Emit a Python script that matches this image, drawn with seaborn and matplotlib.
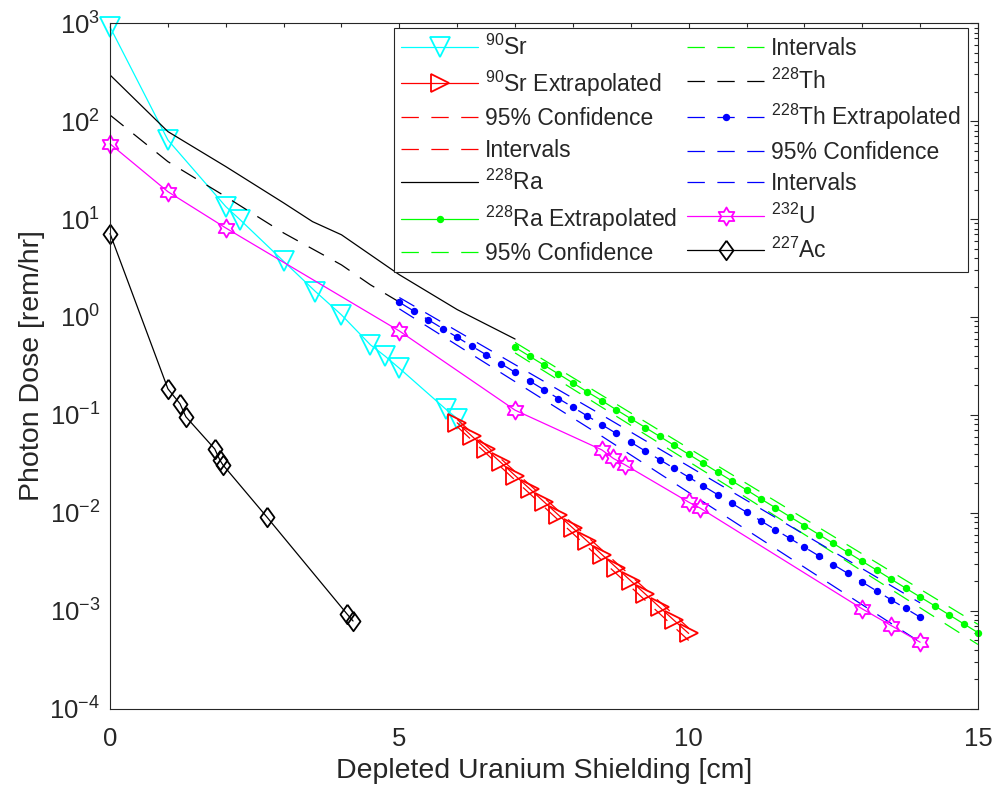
import numpy as np
import matplotlib
matplotlib.use("Agg")
import matplotlib.pyplot as plt
import seaborn as sns
from matplotlib.path import Path
from matplotlib.ticker import MultipleLocator, FixedLocator, NullFormatter, LogFormatterSciNotation

# ---------------- data ----------------
sr_x = [0, 1, 2, 2.25, 3, 3.55, 4, 4.5, 4.75, 5, 5.8, 6]
sr_y = [910, 64, 13.4, 9.8, 3.7, 1.82, 1.05, 0.52, 0.40, 0.30, 0.115, 0.092]

sr_ex_x = [6, 6.25, 6.5, 6.75, 7, 7.25, 7.5, 7.75, 8, 8.25, 8.5, 8.75, 9, 9.25, 9.5, 9.75, 10]
sr_ex_y = [0.0832, 0.0611, 0.0448, 0.0329, 0.0241, 0.0177, 0.0130, 0.00953, 0.0070,
           0.00514, 0.00377, 0.00277, 0.00203, 0.00149, 0.00109, 0.00080, 0.00059]
sr_ci_x = [6, 10]
sr_ci_hi = [0.090, 0.00067]
sr_ci_lo = [0.076, 0.00050]

ra_x = [0, 1, 2, 3, 3.5, 4, 5, 6, 7]
ra_y = [295, 78, 34.3, 14.6, 9.4, 6.9, 2.7, 1.19, 0.596]

ra_ex_x = [7, 7.25, 7.5, 7.75, 8, 8.25, 8.5, 8.75, 9, 9.25, 9.5, 9.75, 10, 10.25, 10.5,
           10.75, 11, 11.25, 11.5, 11.75, 12, 12.25, 12.5, 12.75, 13, 13.25, 13.5, 13.75,
           14, 14.25, 14.5, 14.75, 15]
ra_ex_y = [0.491, 0.398, 0.323, 0.262, 0.212, 0.172, 0.140, 0.113, 0.0918, 0.0745, 0.0604,
           0.0490, 0.0397, 0.0322, 0.0261, 0.0212, 0.0172, 0.0139, 0.0113, 0.00916, 0.00743,
           0.00603, 0.00489, 0.00396, 0.00321, 0.00261, 0.00211, 0.00171, 0.00139, 0.00113,
           0.000914, 0.000741, 0.000601]
ra_ci_x = [7, 11, 15]
ra_ci_hi = [0.55, 0.0200, 0.00073]
ra_ci_lo = [0.43, 0.0143, 0.000455]

th_x = [0, 1, 2, 3, 4, 4.5, 5]
th_y = [115, 38.5, 16.9, 7.2, 3.4, 2.13, 1.42]

th_ex_x = [5, 5.25, 5.5, 5.75, 6, 6.25, 6.5, 6.75, 7, 7.25, 7.5, 7.75, 8, 8.25, 8.5, 8.75,
           9, 9.25, 9.5, 9.75, 10, 10.25, 10.5, 10.75, 11, 11.25, 11.5, 11.75, 12, 12.25,
           12.5, 12.75, 13, 13.25, 13.5, 13.75, 14]
th_ex_y = [1.413, 1.150, 0.936, 0.762, 0.621, 0.505, 0.412, 0.335, 0.273, 0.222, 0.181,
           0.147, 0.120, 0.0976, 0.0795, 0.0648, 0.0527, 0.0429, 0.0350, 0.0285, 0.0232,
           0.0189, 0.0154, 0.0125, 0.0102, 0.00829, 0.00675, 0.00550, 0.00448, 0.00365,
           0.00297, 0.00242, 0.00197, 0.00160, 0.00130, 0.00106, 0.000865]
th_ci_x = [5, 8.5, 14]
th_ci_hi = [1.58, 0.100, 0.00121]
th_ci_lo = [1.21, 0.0607, 0.00048]

u_x = [0, 1, 2, 5, 7, 8.5, 8.7, 8.9, 10, 10.2, 13, 13.5, 14]
u_y = [58.5, 19, 8.1, 0.72, 0.112, 0.044, 0.036, 0.031, 0.0129, 0.0112, 0.00105, 0.00071, 0.00048]

ac_x = [0, 1.0, 1.21, 1.31, 1.81, 1.9, 1.95, 2.71, 4.09, 4.2]
ac_y = [7.1, 0.185, 0.13, 0.096, 0.045, 0.0345, 0.031, 0.0091, 0.00094, 0.00079]

labels = [r"$^{90}$Sr", r"$^{90}$Sr Extrapolated", "95% Confidence", "Intervals",
          r"$^{228}$Ra", r"$^{228}$Ra Extrapolated", "95% Confidence", "Intervals",
          r"$^{228}$Th", r"$^{228}$Th Extrapolated", "95% Confidence", "Intervals",
          r"$^{232}$U", r"$^{227}$Ac"]

y_major = [1e-4, 1e-3, 1e-2, 1e-1, 1e0, 1e1, 1e2, 1e3]
x_major = [0, 5, 10, 15]

# ---------------- style ----------------
sns.set_style("white")
plt.rcParams.update({
    "font.family": ["Liberation Sans", "DejaVu Sans"],
    "mathtext.fontset": "custom",
    "mathtext.rm": "Liberation Sans",
    "mathtext.it": "Liberation Sans:italic",
    "mathtext.bf": "Liberation Sans:bold",
    "mathtext.sf": "Liberation Sans",
    "mathtext.default": "regular",
    "axes.unicode_minus": False,
    "lines.scale_dashes": False,
})

AX = "#262626"
LW = 0.9
MEW = 1.3
DASH = (0, (12.5, 9))

hexagram = Path.unit_regular_star(6, 1 / np.sqrt(3))
diamond = [(0, 1), (0.72, 0), (0, -1), (-0.72, 0), (0, 1)]

fig = plt.figure(figsize=(9.94, 7.91), dpi=100)
ax = fig.add_axes([0.1107, 0.1037, 0.8732, 0.8672])
ax.set_yscale("log")


def draw(x, y, color, label, ls="-", marker=None, ms=None, mfc="none", clip=True):
    kw = dict(x=x, y=y, ax=ax, color=color, linestyle=ls, linewidth=LW, label=label,
              errorbar=None, sort=False, clip_on=clip)
    if marker is not None:
        kw.update(marker=marker, markersize=ms, markerfacecolor=mfc,
                  markeredgecolor=color, markeredgewidth=MEW)
    sns.lineplot(**kw)


draw(sr_x, sr_y, (0, 1, 1), labels[0], marker="v", ms=15, clip=False)
draw(sr_ex_x, sr_ex_y, (1, 0, 0), labels[1], marker=">", ms=13.5, clip=False)
draw(sr_ci_x, sr_ci_hi, (1, 0, 0), labels[2], ls=DASH)
draw(sr_ci_x, sr_ci_lo, (1, 0, 0), labels[3], ls=DASH)
draw(ra_x, ra_y, "black", labels[4])
draw(ra_ex_x, ra_ex_y, (0, 1, 0), labels[5], marker=".", ms=8, mfc=(0, 1, 0), clip=False)
draw(ra_ci_x, ra_ci_hi, (0, 1, 0), labels[6], ls=DASH)
draw(ra_ci_x, ra_ci_lo, (0, 1, 0), labels[7], ls=DASH)
draw(th_x, th_y, "black", labels[8], ls=DASH)
draw(th_ex_x, th_ex_y, (0, 0, 1), labels[9], ls=DASH, marker=".", ms=8, mfc=(0, 0, 1), clip=False)
draw(th_ci_x, th_ci_hi, (0, 0, 1), labels[10], ls=DASH)
draw(th_ci_x, th_ci_lo, (0, 0, 1), labels[11], ls=DASH)
draw(u_x, u_y, (1, 0, 1), labels[12], marker=hexagram, ms=13, clip=False)
draw(ac_x, ac_y, "black", labels[13], marker=diamond, ms=14, clip=False)

# ---------------- axes ----------------
ax.set_xlim(0, 15)
ax.set_ylim(1e-4, 1e3)
ax.xaxis.set_major_locator(FixedLocator(x_major))
ax.xaxis.set_minor_locator(MultipleLocator(1))
ax.yaxis.set_major_locator(FixedLocator(y_major))
ax.yaxis.set_major_formatter(LogFormatterSciNotation())
y_minor = [m * d for d in y_major[:-1] for m in range(2, 10)]
ax.yaxis.set_minor_locator(FixedLocator(y_minor))
ax.yaxis.set_minor_formatter(NullFormatter())

ax.tick_params(which="both", direction="in", top=True, right=True, colors=AX,
               labelsize=18.5, width=0.8)
ax.tick_params(which="major", length=5.5)
ax.tick_params(which="minor", length=3)
ax.tick_params(axis="x", which="major", pad=13)
ax.tick_params(axis="y", which="major", pad=7)
for s in ax.spines.values():
    s.set_color(AX)
    s.set_linewidth(0.8)

ax.set_xlabel("Depleted Uranium Shielding [cm]", fontsize=20.5, color=AX, labelpad=5)
ax.set_ylabel("Photon Dose [rem/hr]", fontsize=20.5, color=AX, labelpad=3)

handles, labs = ax.get_legend_handles_labels()
leg = ax.legend(handles, labs, ncol=2, loc="upper right", bbox_to_anchor=(0.988, 0.993),
                borderaxespad=0, fontsize=16.5, frameon=True, fancybox=False,
                handlelength=3.35, handletextpad=0.3, columnspacing=0.45,
                labelspacing=0.37, borderpad=0.3)
leg.get_frame().set_edgecolor(AX)
leg.get_frame().set_linewidth(0.8)
leg.get_frame().set_alpha(1)

fig.savefig("out.png", dpi=100)
